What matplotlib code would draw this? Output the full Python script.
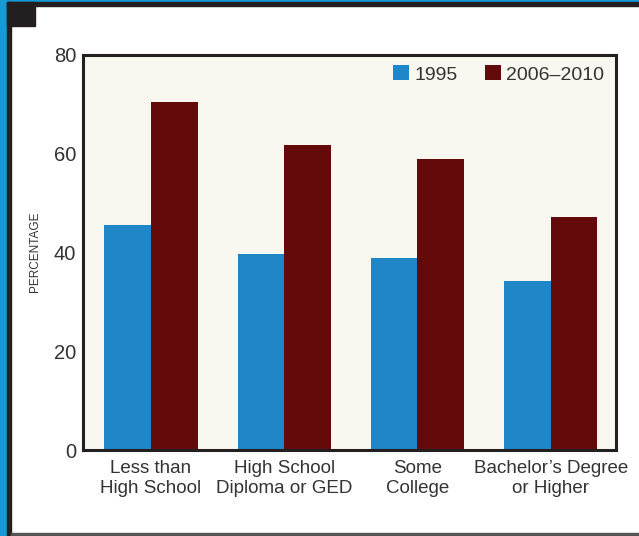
from matplotlib import pyplot as plt
from matplotlib.patches import Rectangle
import numpy as np

categories = ['Less than\nHigh School', 'High School\nDiploma or GED',
              'Some\nCollege', 'Bachelor\u2019s Degree\nor Higher']
vals_1995 = [45.6, 39.6, 38.8, 34.3]
vals_2010 = [70.5, 61.7, 58.9, 47.1]
series_names = ['1995', '2006\u20132010']

plt.rcParams['font.family'] = ['Liberation Sans', 'DejaVu Sans']

blue = '#1f86c8'
red = '#650a0b'
W, H = 639, 536

fig = plt.figure(figsize=(6.39, 5.36), dpi=100)
fig.patch.set_facecolor('white')

# outer frame bits
def px_rect(x0, y0, x1, y1, color):
    fig.patches.append(Rectangle((x0 / W, 1 - y1 / H), (x1 - x0) / W, (y1 - y0) / H,
                                 transform=fig.transFigure, color=color, zorder=0))

px_rect(0, 0, 7, H, '#149ad6')
px_rect(0, 0, W, 2, '#149ad6')
px_rect(7, 2, 11, H, '#231f20')
px_rect(7, 2, W, 6, '#231f20')
px_rect(7, 2, 35, 26, '#231f20')
px_rect(11, 533, W, H, '#555555')

ax = fig.add_axes([83 / W, 1 - 450 / H, (616 - 83) / W, (450 - 55) / H])
ax.set_facecolor('#f8f7f0')

x = np.arange(len(categories))
w = 0.35
ax.bar(x - w / 2, vals_1995, w, color=blue, label=series_names[0])
ax.bar(x + w / 2, vals_2010, w, color=red, label=series_names[1])

ax.set_xlim(-0.51, 3.49)
ax.set_ylim(0, 80)
ax.set_yticks([0, 20, 40, 60, 80])
ax.set_xticks(x)
ax.set_xticklabels(categories, fontsize=13.5, color='#333333', linespacing=1.25)
ax.tick_params(axis='both', length=0, labelcolor='#333333')
ax.tick_params(axis='y', pad=5, labelsize=14.5)
ax.tick_params(axis='x', pad=7)
for s in ax.spines.values():
    s.set_linewidth(2.2)
    s.set_color('#231f20')

fig.text(35 / W, 1 - 252 / H, 'PERCENTAGE', rotation=90, fontsize=8.5,
         color='#333333', ha='center', va='center')

leg = ax.legend(loc='upper right', ncol=2, frameon=False, fontsize=14,
                handlelength=0.8, handleheight=0.8, columnspacing=1.4,
                handletextpad=0.3, bbox_to_anchor=(1.011, 1.018))
for t in leg.get_texts():
    t.set_color('#333333')

plt.savefig('out.png', dpi=100)
